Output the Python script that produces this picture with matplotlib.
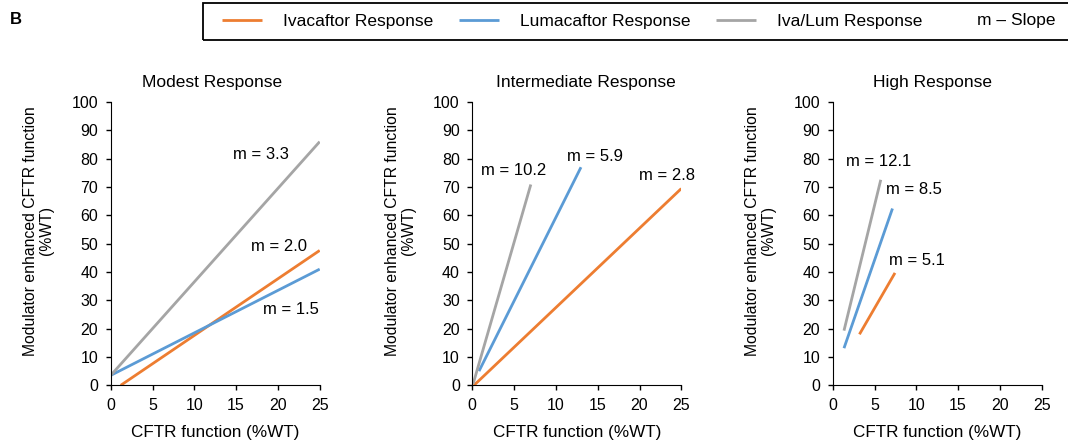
import numpy as np
import matplotlib.pyplot as plt
from matplotlib.patches import Rectangle

plt.rcParams['font.family'] = ['Liberation Sans', 'DejaVu Sans']

titles = ["Modest Response", "Intermediate Response", "High Response"]

# each fitted line: start x, start y, end x, slope
iva_x0 = [1.2, 0.2, 3.2]
iva_y0 = [0.0, 0.0, 18.0]
iva_x1 = [25.0, 25.0, 7.45]
iva_m = [2.0, 2.8, 5.1]

lum_x0 = [0.0, 0.8, 1.35]
lum_y0 = [3.5, 5.0, 13.1]
lum_x1 = [25.0, 13.0, 7.15]
lum_m = [1.5, 5.9, 8.5]

combo_x0 = [0.0, 0.1, 1.35]
combo_y0 = [3.5, 0.5, 19.3]
combo_x1 = [25.0, 7.0, 5.75]
combo_m = [3.3, 10.2, 12.1]

# slope label anchors (left edge, vertical centre) per panel
iva_lab = [(16.8, 49), (19.9, 74), (6.7, 44)]
lum_lab = [(18.2, 26.8), (11.3, 80.7), (6.4, 69)]
combo_lab = [(14.6, 81.3), (1.1, 75.8), (1.55, 79)]

c_iva = "#ED7D31"
c_lum = "#5B9BD5"
c_combo = "#A5A5A5"

W, H = 1068, 446
fig = plt.figure(figsize=(W / 100, H / 100), dpi=100)

lefts = [110.7, 472.3, 832.7]
title_x = [0.484, 0.542, 0.479]
ax_w = 209.0
ax_top, ax_bot = 102.0, 385.3

series = [
    (iva_x0, iva_y0, iva_x1, iva_m, iva_lab, c_iva, "Ivacaftor Response"),
    (lum_x0, lum_y0, lum_x1, lum_m, lum_lab, c_lum, "Lumacaftor Response"),
    (combo_x0, combo_y0, combo_x1, combo_m, combo_lab, c_combo, "Iva/Lum Response"),
]

handles = []
for i, title in enumerate(titles):
    ax = fig.add_axes([lefts[i] / W, 1 - ax_bot / H, ax_w / W, (ax_bot - ax_top) / H])
    for x0, y0, x1, m, lab, col, name in series:
        xs = np.array([x0[i], x1[i]])
        ys = y0[i] + m[i] * (xs - x0[i])
        ln, = ax.plot(xs, ys, color=col, lw=2.0, solid_capstyle='butt', label=name)
        if i == 0:
            handles.append(ln)
        ax.text(lab[i][0], lab[i][1], f"m = {m[i]:.1f}", fontsize=12,
                ha='left', va='center', color='black')

    ax.set_xlim(0, 25)
    ax.set_ylim(0, 100)
    ax.set_xticks(np.arange(0, 26, 5))
    ax.set_yticks(np.arange(0, 101, 10))
    ax.spines['top'].set_visible(False)
    ax.spines['right'].set_visible(False)
    ax.tick_params(direction='out', length=3.5, width=1, labelsize=11.5, pad=5.5)
    ax.set_xlabel("CFTR function (%WT)", fontsize=12.3, labelpad=9)
    ax.text(-72 / ax_w, 0.545, "Modulator enhanced CFTR function\n(%WT)",
            transform=ax.transAxes, rotation=90, ha='center', va='center',
            multialignment='center', fontsize=11.3, linespacing=1.05)
    ax.text(title_x[i], 1 + 19.3 / (ax_bot - ax_top), title, transform=ax.transAxes,
            ha='center', va='center', fontsize=12.5)

# panel letter
fig.text(10 / W, 1 - 20 / H, "B", fontsize=12, fontweight='bold', va='center', ha='left')

# legend strip across the top
fig.patches.append(Rectangle((203 / W, 1 - 40 / H), 880 / W, 37 / H,
                             transform=fig.transFigure, fill=False,
                             edgecolor='black', lw=1.3))
leg = fig.legend(handles=handles, loc='center left', ncol=3, frameon=False,
                 bbox_to_anchor=(222 / W, 1 - 21 / H), fontsize=12.5,
                 handlelength=2.3, handletextpad=1.2, columnspacing=1.5,
                 borderaxespad=0, borderpad=0)
fig.text(977 / W, 1 - 21 / H, "m \u2013 Slope", fontsize=12.5, va='center', ha='left')

fig.savefig("out.png", dpi=100)
